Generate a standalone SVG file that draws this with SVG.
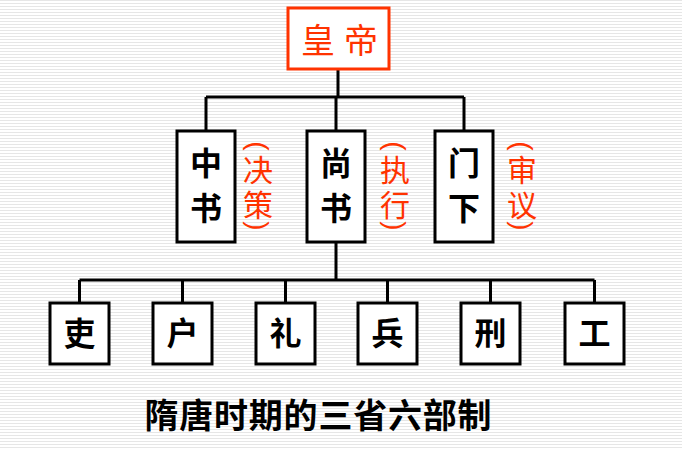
<svg xmlns="http://www.w3.org/2000/svg" width="682" height="450" viewBox="0 0 682 450">
<defs>
<pattern id="stripes" width="8" height="3" patternUnits="userSpaceOnUse">
<rect width="8" height="3" fill="#ffffff"/>
<rect y="0" width="8" height="1" fill="#e6e6e6"/>
</pattern>
<style>
.box{fill:#ffffff;stroke:#000;stroke-width:3}
.red{fill:#ff3300;font-family:"Noto Sans CJK SC",sans-serif;font-size:30px;text-anchor:middle}
.vert{writing-mode:vertical-rl;letter-spacing:5px}
.par{fill:#ff3300;font-family:"Liberation Sans",sans-serif;font-size:28px;text-anchor:middle;dominant-baseline:central}
.blk{fill:#000;font-family:"Noto Sans CJK SC",sans-serif;font-size:32px;font-weight:bold;text-anchor:middle}
.line{stroke:#000;stroke-width:3;fill:none}
</style>
</defs>
<rect width="682" height="450" fill="url(#stripes)"/>
<g id="connectors">
<path class="line" d="M338 69 V97 M206 97 H464 M206 97 V131 M336 97 V131 M464 97 V131"/>
<path class="line" d="M336 242 V280 M79.5 280 H594.5 M79.5 280 V303 M182.5 280 V303 M285.5 280 V303 M387.5 280 V303 M490.5 280 V303 M594.5 280 V303"/>
</g>
<g id="emperor">
<rect x="288" y="8" width="101" height="61" fill="#fff" stroke="#ff3300" stroke-width="3"/>
<text class="red" x="318" y="53" style="font-size:34px">皇</text>
<text class="red" x="361" y="53" style="font-size:34px">帝</text>
</g>
<g id="zhongshu">
<rect class="box" x="177" y="131" width="58" height="111"/>
<text class="blk" x="206" y="175">中</text>
<text class="blk" x="206" y="220">书</text>
</g>
<g id="shangshu">
<rect class="box" x="307" y="131" width="58" height="111"/>
<text class="blk" x="336" y="175">尚</text>
<text class="blk" x="336" y="220">书</text>
</g>
<g id="menxia">
<rect class="box" x="435" y="131" width="58" height="111"/>
<text class="blk" x="464" y="175">门</text>
<text class="blk" x="464" y="220">下</text>
</g>
<g id="note-juece">
<text class="par" x="258" y="146" transform="rotate(90 258 146)">(</text>
<text class="red vert" x="258" y="155" style="text-anchor:start">决策</text>
<text class="par" x="258" y="226" transform="rotate(90 258 226)">)</text>
</g>
<g id="note-zhixing">
<text class="par" x="395" y="146" transform="rotate(90 395 146)">(</text>
<text class="red vert" x="395" y="155" style="text-anchor:start">执行</text>
<text class="par" x="395" y="226" transform="rotate(90 395 226)">)</text>
</g>
<g id="note-shenyi">
<text class="par" x="522" y="146" transform="rotate(90 522 146)">(</text>
<text class="red vert" x="522" y="155" style="text-anchor:start">审议</text>
<text class="par" x="522" y="226" transform="rotate(90 522 226)">)</text>
</g>
<g id="li-bu"><rect class="box" x="50" y="303" width="59" height="61"/><text class="blk" x="79.5" y="345">吏</text></g>
<g id="hu-bu"><rect class="box" x="153" y="303" width="59" height="61"/><text class="blk" x="182.5" y="345">户</text></g>
<g id="li-bu2"><rect class="box" x="256" y="303" width="59" height="61"/><text class="blk" x="285.5" y="345">礼</text></g>
<g id="bing-bu"><rect class="box" x="358" y="303" width="59" height="61"/><text class="blk" x="387.5" y="345">兵</text></g>
<g id="xing-bu"><rect class="box" x="461" y="303" width="59" height="61"/><text class="blk" x="490.5" y="345">刑</text></g>
<g id="gong-bu"><rect class="box" x="565" y="303" width="59" height="61"/><text class="blk" x="594.5" y="345">工</text></g>
<g id="title">
<text x="318" y="428" style="fill:#000;font-family:'Noto Sans CJK SC',sans-serif;font-size:34px;font-weight:bold;text-anchor:middle" textLength="347">隋唐时期的三省六部制</text>
</g>
</svg>
